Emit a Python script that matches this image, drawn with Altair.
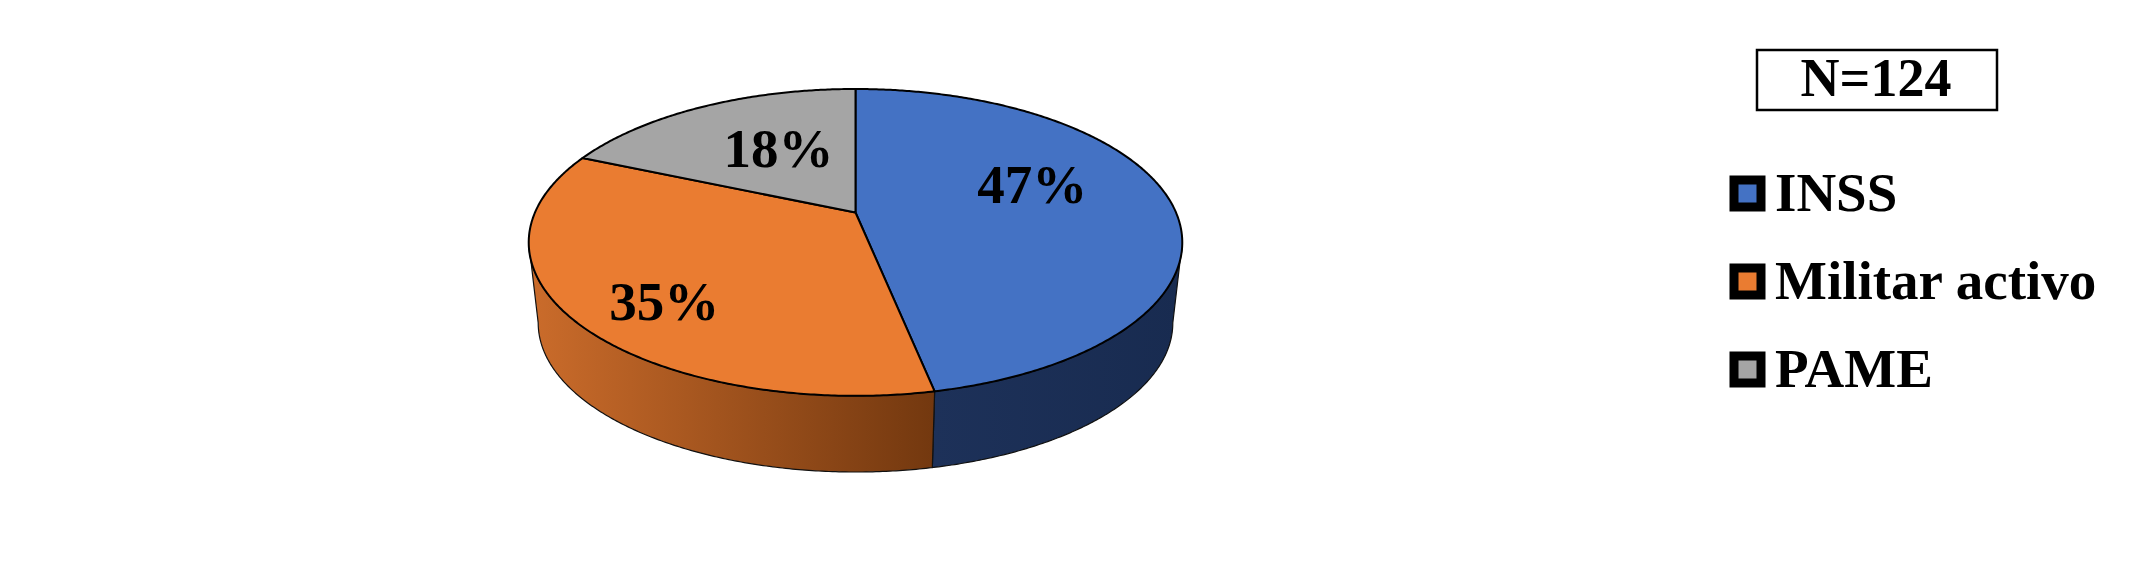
import math
import altair as alt
import pandas as pd

# ---- values ----
categories = ["INSS", "Militar activo", "PAME"]
shares = [46.8, 34.7, 18.5]
labels = ["47%", "35%", "18%"]
colors = ["#4472C4", "#EA7C31", "#A5A5A5"]
note = "N=124"

# label anchors on the pie's own plane (-1..1 across, -1..1 front to back)
label_across = [0.572, -0.533, -0.262]
label_depth = [0.188, -0.545, 0.46]

# ---- layout ----
W, H = 2139, 548
PIE_X, PIE_Y = 847.5, 204.5   # apex on the plot area
RADIUS_X, RADIUS_Y = 320.5, 147.6
TILT = 0.195                  # perspective of the disc
SHRINK = 0.971                # underside seen smaller than the top
DROP = 0.552                  # disc thickness in y units
SERIF = "Liberation Serif"


def project(across, depth):
    w = 1 + TILT * depth
    return across / w, depth / w


def rim(start, end, step=0.5):
    n = max(2, int(abs(end - start) / step) + 1)
    out = []
    for k in range(n + 1):
        t = math.radians(start + (end - start) * k / n)
        out.append(project(math.sin(t), math.cos(t)))
    return out


cuts = [0.0]
for s in shares:
    cuts.append(cuts[-1] + s / sum(shares) * 360.0)

top_rows = []
for cat, a, b in zip(categories, cuts[:-1], cuts[1:]):
    pts = [(0.0, 0.0)] + rim(a, b) + [(0.0, 0.0)]
    for i, (x, y) in enumerate(pts):
        top_rows.append({"cat": cat, "i": i, "x": x, "y": y})
top = pd.DataFrame(top_rows)


def wall(start, end):
    upper = rim(start, end)
    lower = [(x * SHRINK, y * SHRINK - DROP) for x, y in reversed(upper)]
    pts = upper + lower + upper[:1]
    return pd.DataFrame([{"i": i, "x": x, "y": y} for i, (x, y) in enumerate(pts)])


edge_right = math.degrees(math.acos(-TILT))
edge_left = 360 - edge_right

x_scale = alt.Scale(domain=[-PIE_X / RADIUS_X, (W - PIE_X) / RADIUS_X], nice=False, zero=False)
y_scale = alt.Scale(domain=[-(H - PIE_Y) / RADIUS_Y, PIE_Y / RADIUS_Y], nice=False, zero=False)
X = alt.X("x:Q", scale=x_scale, axis=None)
Y = alt.Y("y:Q", scale=y_scale, axis=None)


def gradient(c0, c1):
    return alt.Gradient(
        gradient="linear", x1=0, x2=1, y1=0, y2=0,
        stops=[alt.GradientStop(color=c0, offset=0), alt.GradientStop(color=c1, offset=1)],
    )


wall_blue = alt.Chart(wall(edge_right, cuts[1])).mark_line(
    fill=gradient("#1D3159", "#182B50"), stroke="#111111", strokeWidth=1.2
).encode(x=X, y=Y, order="i:Q")

wall_orange = alt.Chart(wall(cuts[1], edge_left)).mark_line(
    fill=gradient("#CB6C2B", "#73380F"), stroke="#111111", strokeWidth=1.2
).encode(x=X, y=Y, order="i:Q")

faces = alt.Chart(top).mark_line(stroke="black", strokeWidth=2, strokeJoin="round").encode(
    x=X,
    y=Y,
    order="i:Q",
    fill=alt.Fill(
        "cat:N",
        scale=alt.Scale(domain=categories, range=colors),
        legend=alt.Legend(
            title=None,
            orient="none",
            legendX=1712,
            legendY=158,
            symbolType="square",
            symbolSize=729,
            symbolStrokeColor="black",
            symbolStrokeWidth=9,
            symbolOpacity=1,
            labelFont=SERIF,
            labelFontSize=55,
            labelFontWeight="bold",
            labelColor="black",
            labelLimit=600,
            labelOffset=0,
            rowPadding=25,
            padding=0,
        ),
    ),
)

label_points = [project(a, d) for a, d in zip(label_across, label_depth)]
label_df = pd.DataFrame({
    "label": labels,
    "x": [p[0] for p in label_points],
    "y": [p[1] for p in label_points],
})
pct = alt.Chart(label_df).mark_text(
    font=SERIF, fontSize=55, fontWeight="bold", color="black", align="center", baseline="middle"
).encode(x=X, y=Y, text="label:N")

note_df = pd.DataFrame({"note": [note]})
box = alt.Chart(note_df).mark_rect(fill="white", stroke="black", strokeWidth=2.5).encode(
    x=alt.value(1749), x2=alt.value(1989), y=alt.value(42), y2=alt.value(102)
)
note_text = alt.Chart(note_df).mark_text(
    font=SERIF, fontSize=54, fontWeight="bold", color="black", align="center", baseline="middle"
).encode(x=alt.value(1868), y=alt.value(72), text="note:N")

chart = alt.layer(wall_blue, wall_orange, faces, pct, box, note_text).properties(
    width=W,
    height=H,
    padding=0,
    background="white",
    autosize=alt.AutoSizeParams(type="none"),
).configure_view(stroke=None)

chart.save("out.html", embed_options={"renderer": "svg", "actions": False})
